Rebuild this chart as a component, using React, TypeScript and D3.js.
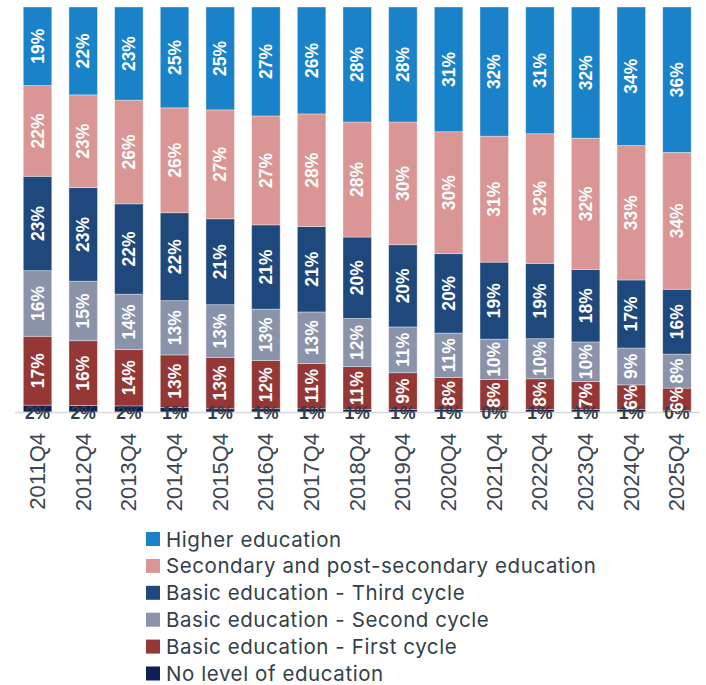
import React, { useEffect, useRef } from "react";
import * as d3 from "d3";

const quarters = ["2011Q4", "2012Q4", "2013Q4", "2014Q4", "2015Q4", "2016Q4", "2017Q4", "2018Q4", "2019Q4", "2020Q4", "2021Q4", "2022Q4", "2023Q4", "2024Q4", "2025Q4"];

const noLevel = [1.7, 1.6, 1.5, 1.1, 0.8, 0.8, 0.8, 0.6, 0.6, 0.6, 0.4, 0.6, 0.6, 0.6, 0.3];
const firstCycle = [17.0, 16.0, 13.9, 13.0, 12.7, 11.9, 11.2, 10.6, 9.1, 7.9, 7.6, 7.6, 6.9, 6.1, 5.6];
const secondCycle = [16.2, 14.7, 13.7, 13.4, 13.0, 12.7, 12.7, 11.9, 11.3, 11.0, 10.0, 9.9, 9.8, 9.1, 8.4];
const thirdCycle = [23.3, 23.1, 22.3, 21.7, 21.2, 20.8, 21.1, 20.1, 20.3, 19.6, 19.0, 18.6, 17.9, 16.8, 16.0];
const secondary = [22.4, 22.9, 25.6, 25.9, 26.9, 26.9, 27.8, 28.4, 30.3, 30.1, 31.1, 32.0, 32.4, 33.2, 33.8];
const higher = [19.4, 21.7, 23.0, 24.9, 25.4, 26.9, 26.4, 28.4, 28.4, 30.8, 31.9, 31.3, 32.4, 34.2, 35.9];

const seriesNames = [
  "No level of education",
  "Basic education - First cycle",
  "Basic education - Second cycle",
  "Basic education - Third cycle",
  "Secondary and post-secondary education",
  "Higher education",
];
const seriesValues = [noLevel, firstCycle, secondCycle, thirdCycle, secondary, higher];
const colors = ["#0e1f55", "#953735", "#8a93aa", "#1f497d", "#d99694", "#1a82c9"];

const App = () => {
  const svgRef = useRef<SVGSVGElement>(null);

  useEffect(() => {
    const width = 706;
    const height = 685;
    const svg = d3.select(svgRef.current).attr("width", width).attr("height", height);
    svg.selectAll("*").remove();

    const table = quarters.map((q, i) => {
      const row: any = { quarter: q };
      seriesNames.forEach((s, j) => (row[s] = seriesValues[j][i]));
      return row;
    });
    const stacked = d3.stack().keys(seriesNames)(table);

    const x = d3.scaleBand().domain(quarters).range([14.7, 699.8]).paddingInner(0.376).paddingOuter(0.188);
    const y = d3.scaleLinear().domain([0, 100]).range([412, 7]);

    const layers = svg.append("g")
      .selectAll("g")
      .data(stacked)
      .enter()
      .append("g")
      .attr("fill", (d, i) => colors[i]);

    layers.selectAll("rect")
      .data((d) => d)
      .enter()
      .append("rect")
      .attr("x", (d: any) => x(d.data.quarter))
      .attr("y", (d) => y(d[1]))
      .attr("width", x.bandwidth())
      .attr("height", (d) => y(d[0]) - y(d[1]))
      .attr("stroke", "#ffffff")
      .attr("stroke-opacity", 0.45)
      .attr("stroke-width", 0.8);

    // axis line
    svg.append("line")
      .attr("x1", x.range()[0])
      .attr("x2", x.range()[1])
      .attr("y1", y(0) + 0.5)
      .attr("y2", y(0) + 0.5)
      .attr("stroke", "#d9d9d9")
      .attr("stroke-width", 1.5);

    // segment labels
    stacked.forEach((layer, i) => {
      layer.forEach((d: any) => {
        const cx = x(d.data.quarter)! + x.bandwidth() / 2;
        const label = Math.round(d[1] - d[0]) + "%";
        if (i === 0) {
          svg.append("text")
            .attr("x", cx)
            .attr("y", y(0) + 1)
            .attr("text-anchor", "middle")
            .attr("dominant-baseline", "central")
            .attr("font-family", "'Liberation Sans', Arial, sans-serif")
            .attr("font-weight", "bold")
            .attr("font-size", 17.5)
            .attr("fill", "#333f48")
            .text(label);
        } else {
          const cy = (y(d[0]) + y(d[1])) / 2;
          svg.append("text")
            .attr("transform", `translate(${cx},${cy}) rotate(-90)`)
            .attr("text-anchor", "middle")
            .attr("dominant-baseline", "central")
            .attr("font-family", "'Liberation Sans', Arial, sans-serif")
            .attr("font-weight", "bold")
            .attr("font-size", 17.5)
            .attr("fill", "#ffffff")
            .text(label);
        }
      });
    });

    // x axis labels
    svg.append("g")
      .selectAll("text")
      .data(quarters)
      .enter()
      .append("text")
      .attr("transform", (d) => `translate(${x(d)! + x.bandwidth() / 2},433) rotate(-90)`)
      .attr("text-anchor", "end")
      .attr("dominant-baseline", "central")
      .attr("font-family", "'Liberation Sans', Arial, sans-serif")
      .attr("font-size", 22)
      .attr("fill", "#3c4650")
      .text((d) => d);

    // legend, top to bottom in reverse stacking order
    const legendItems = seriesNames.map((s, i) => ({ name: s, color: colors[i] })).reverse();
    const legend = svg.append("g").attr("transform", "translate(146,539)");
    const item = legend.selectAll("g")
      .data(legendItems)
      .enter()
      .append("g")
      .attr("transform", (d, i) => `translate(0,${i * 26.9})`);
    item.append("rect")
      .attr("x", 0)
      .attr("y", -7)
      .attr("width", 14)
      .attr("height", 14)
      .attr("fill", (d) => d.color);
    item.append("text")
      .attr("x", 20)
      .attr("y", 0)
      .attr("dominant-baseline", "central")
      .attr("font-family", "Inter, sans-serif")
      .attr("font-size", 20.5)
      .attr("letter-spacing", 0.58)
      .attr("fill", "#333f48")
      .text((d) => d.name);
  }, []);

  return (
    <div style={{ position: "absolute", left: 0, top: 0 }}>
      <svg ref={svgRef}></svg>
    </div>
  );
};

export default App;
